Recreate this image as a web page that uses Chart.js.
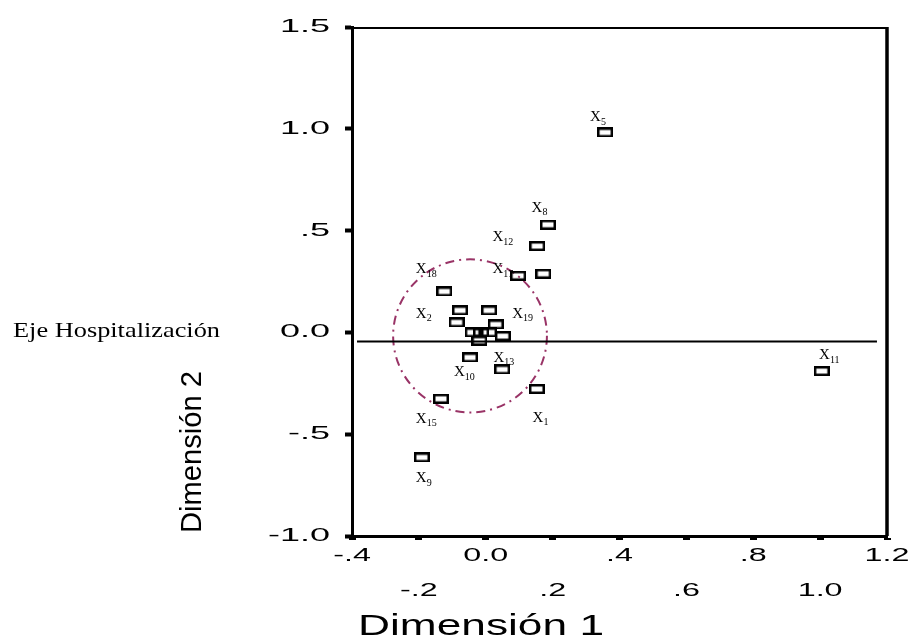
<!DOCTYPE html>
<html>
<head>
<meta charset="utf-8">
<script src="https://cdn.jsdelivr.net/npm/chart.js@4.4.1/dist/chart.umd.min.js"></script>
<style>
  html, body { margin: 0; padding: 0; background: #fff; }
  canvas { display: block; }
</style>
</head>
<body>
<canvas id="chart" width="917" height="644"></canvas>
<script>
// object coordinates (Dimensión 1, Dimensión 2)
const pointX = [0.357, 0.186, 0.154, 0.172, 0.097, -0.124, -0.077, 0.010, -0.087, 0.030, -0.039,
  -0.014, 0.010, -0.019, 0.051, -0.047, 0.049, 0.153, -0.134, -0.191, 1.005];
const pointY = [0.982, 0.529, 0.424, 0.288, 0.278, 0.201, 0.108, 0.108, 0.049, 0.039, 0.000,
  0.000, 0.000, -0.041, -0.018, -0.123, -0.182, -0.278, -0.326, -0.614, -0.190];

// variable labels and where they sit (data units, left edge of the "X")
const labelNames = ['X5', 'X8', 'X12', 'X17', 'X18', 'X2', 'X19', 'X13', 'X10', 'X15', 'X1', 'X9', 'X11'];
const labelX = [0.312, 0.137, 0.020, 0.020, -0.209, -0.209, 0.079, 0.023, -0.095, -0.209, 0.140, -0.209, 0.997];
const labelY = [1.057, 0.612, 0.468, 0.312, 0.312, 0.092, 0.092, -0.124, -0.195, -0.424, -0.419, -0.717, -0.113];

const xTickLabels = ['-.4', '-.2', '0.0', '.2', '.4', '.6', '.8', '1.0', '1.2'];
const yTickLabels = ['-1.0', '-.5', '0.0', '.5', '1.0', '1.5'];

// "Eje Hospitalización" reference line and the dash-dot circle
const hospLineX = [-0.385, 1.17];
const hospLineY = -0.045;
const circleCenter = [-0.047, -0.017];
const circleRadius = [0.23, 0.376];

function makeBox() {
  const c = document.createElement('canvas');
  c.width = 16;
  c.height = 10;
  const g = c.getContext('2d');
  g.strokeStyle = '#000';
  g.lineWidth = 2.5;
  g.strokeRect(1.25, 1.25, 13.5, 7.5);
  return c;
}

function stretchedText(ctx, text, x, y, font, sx, align) {
  ctx.save();
  ctx.font = font;
  ctx.translate(x, y);
  ctx.scale(sx, 1);
  ctx.textAlign = align;
  ctx.textBaseline = 'middle';
  ctx.fillText(text, 0, 0);
  ctx.restore();
}

function fitText(ctx, text, x, y, font, width) {
  ctx.save();
  ctx.font = font;
  const sx = width / ctx.measureText(text).width;
  ctx.translate(x, y);
  ctx.scale(sx, 1);
  ctx.textAlign = 'left';
  ctx.textBaseline = 'middle';
  ctx.fillText(text, 0, 0);
  ctx.restore();
}

const decorations = {
  id: 'decorations',
  beforeDatasetsDraw(chart) {
    const { ctx, scales: { x, y } } = chart;
    const cx = x.getPixelForValue(circleCenter[0]);
    const cy = y.getPixelForValue(circleCenter[1]);
    const rx = Math.abs(x.getPixelForValue(circleCenter[0] + circleRadius[0]) - cx);
    const ry = Math.abs(y.getPixelForValue(circleCenter[1] + circleRadius[1]) - cy);
    ctx.save();
    ctx.strokeStyle = '#993366';
    ctx.lineWidth = 2;
    ctx.setLineDash([9, 5, 2, 5]);
    ctx.beginPath();
    ctx.ellipse(cx, cy, rx, ry, 0, 0, Math.PI * 2);
    ctx.stroke();
    ctx.restore();
  },
  afterDraw(chart) {
    const { ctx, chartArea: a, scales: { x, y } } = chart;
    ctx.save();
    ctx.fillStyle = '#000';
    ctx.strokeStyle = '#000';

    // frame: top and right
    ctx.lineWidth = 2;
    ctx.beginPath();
    ctx.moveTo(a.left, a.top + 1);
    ctx.lineTo(a.right, a.top + 1);
    ctx.stroke();
    ctx.lineWidth = 3.5;
    ctx.beginPath();
    ctx.moveTo(a.right, a.top);
    ctx.lineTo(a.right, a.bottom);
    ctx.stroke();

    // tick labels
    x.ticks.forEach((t, i) => {
      const px = x.getPixelForValue(t.value);
      const py = a.bottom + 20 + (i % 2) * 35;
      stretchedText(ctx, xTickLabels[i], px, py, '19px "Liberation Sans"', 1.7, 'center');
    });
    y.ticks.forEach((t, i) => {
      const py = y.getPixelForValue(t.value);
      stretchedText(ctx, yTickLabels[i], a.left - 22, py, '18px "Liberation Sans"', 2.0, 'right');
    });

    // axis titles
    fitText(ctx, 'Dimensión 1', 358, 627, '30px "Liberation Sans"', 246);
    ctx.save();
    ctx.translate(193, 533);
    ctx.rotate(-Math.PI / 2);
    fitText(ctx, 'Dimensión 2', 0, 0, '29px "Liberation Sans"', 162);
    ctx.restore();

    fitText(ctx, 'Eje Hospitalización', 13, 331, '21px "Liberation Serif"', 207);

    // point labels X with subscript
    labelNames.forEach((name, i) => {
      const px = x.getPixelForValue(labelX[i]);
      const py = y.getPixelForValue(labelY[i]);
      ctx.font = '15px "Liberation Serif"';
      ctx.textAlign = 'left';
      ctx.textBaseline = 'middle';
      ctx.fillText('X', px, py);
      const w = ctx.measureText('X').width;
      ctx.font = '10px "Liberation Serif"';
      ctx.fillText(name.slice(1), px + w, py + 5);
    });
    ctx.restore();
  }
};

const points = pointX.map((v, i) => ({ x: v, y: pointY[i] }));
const hospLine = hospLineX.map(v => ({ x: v, y: hospLineY }));

new Chart(document.getElementById('chart'), {
  type: 'scatter',
  data: {
    datasets: [
      {
        type: 'line',
        data: hospLine,
        borderColor: '#000',
        borderWidth: 2,
        pointRadius: 0,
        fill: false
      },
      {
        data: points,
        pointStyle: makeBox(),
        pointRadius: 7,
        borderColor: '#000',
        backgroundColor: 'transparent'
      }
    ]
  },
  options: {
    responsive: false,
    animation: false,
    events: [],
    layout: { padding: { top: 27, right: 30, left: 0, bottom: 0 } },
    plugins: {
      legend: { display: false },
      tooltip: { enabled: false }
    },
    scales: {
      x: {
        type: 'linear',
        min: -0.4,
        max: 1.2,
        afterFit: s => { s.height = 108; },
        ticks: { stepSize: 0.2, display: false },
        grid: { drawOnChartArea: false, color: '#000', tickLength: 4, tickWidth: 7 },
        border: { color: '#000', width: 3 }
      },
      y: {
        type: 'linear',
        min: -1,
        max: 1.5,
        afterFit: s => { s.width = 352; },
        ticks: { stepSize: 0.5, display: false },
        grid: { drawOnChartArea: false, color: '#000', tickLength: 7, tickWidth: 4 },
        border: { color: '#000', width: 3 }
      }
    }
  },
  plugins: [decorations]
});
</script>
</body>
</html>
